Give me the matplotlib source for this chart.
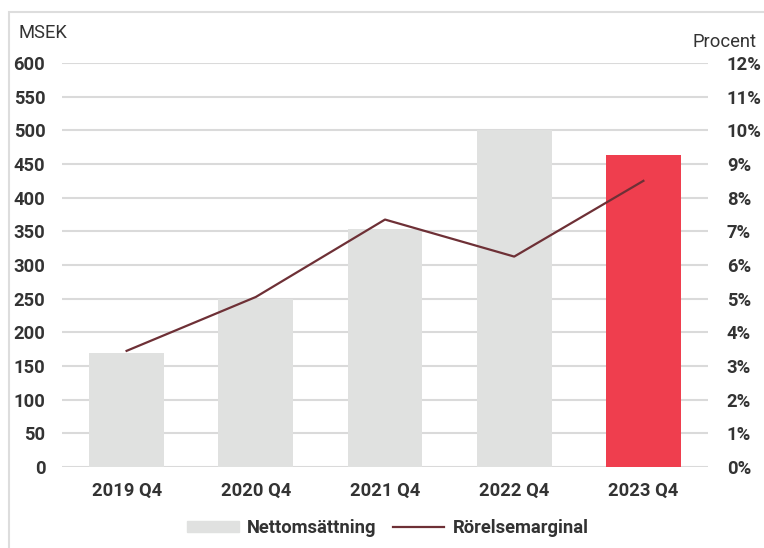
import numpy as np
import matplotlib.pyplot as plt
from matplotlib.patches import Rectangle

# =============================
# DATA
# =============================
quarters = ["2019 Q4", "2020 Q4", "2021 Q4", "2022 Q4", "2023 Q4"]
nettoomsattning = [170, 250, 353, 500, 463]          # MSEK
rorelsemarginal = [3.45, 5.05, 7.35, 6.25, 8.5]     # %

left_ticks = list(range(0, 601, 50))
right_ticks = list(range(0, 13, 1))

# =============================
# STYLE
# =============================
plt.rcParams['font.family'] = ['Roboto', 'DejaVu Sans']
text_col = "#333333"
grey_bar = "#E0E1E0"
red_bar = "#EF3E4E"
line_col = "#6E3036"
grid_col = "#DADADA"
fs = 13.2

fig = plt.figure(figsize=(7.64, 5.48), dpi=100)
ax = fig.add_axes([62/764, 1 - 467/548, 646/764, 404/548])
ax2 = ax.twinx()

x = np.arange(len(quarters))
colors = [grey_bar] * (len(quarters) - 1) + [red_bar]
ax.bar(x, nettoomsattning, width=0.58, color=colors, zorder=2)

ax.set_xlim(-0.5, len(quarters) - 0.5)
ax.set_ylim(0, 600)
ax.set_yticks(left_ticks)
ax.set_yticklabels([str(t) for t in left_ticks])
for t in left_ticks:
    ax.axhline(t, color=grid_col, lw=1.5, zorder=1)

ax2.plot(x, rorelsemarginal, color=line_col, lw=1.6, zorder=3)
ax2.set_ylim(0, 12)
ax2.set_yticks(right_ticks)
ax2.set_yticklabels([f"{t}%" for t in right_ticks])

ax.set_xticks(x)
ax.set_xticklabels(quarters)

for a in (ax, ax2):
    for s in a.spines.values():
        s.set_visible(False)
    a.tick_params(length=0, labelsize=fs, colors=text_col)
    for lab in a.get_yticklabels() + a.get_xticklabels():
        lab.set_fontweight("bold")
ax.tick_params(axis='y', pad=12)
ax2.tick_params(axis='y', pad=13.5)
ax.tick_params(axis='x', pad=11)

fig.text(18/764, 1 - 33/548, "MSEK", fontsize=fs, color=text_col, va="center")
fig.text(725/764, 1 - 42/548, "Procent", fontsize=fs, color=text_col,
         va="center", ha="center")

# legend
handles = [Rectangle((0, 0), 1, 1, color=grey_bar),
           plt.Line2D([0], [0], color=line_col, lw=1.6)]
fig.legend(handles, ["Nettomsättning", "Rörelsemarginal"],
           loc="center", bbox_to_anchor=(388/764, 1 - 528/548), ncol=2,
           frameon=False, handlelength=2.8, handleheight=0.6,
           columnspacing=0.9, handletextpad=0.45,
           prop={"size": fs, "weight": "bold"}, labelcolor=text_col)

# outer frame
fig.patches.append(Rectangle((9/764, -0.05), 1, 1.05 - 12/548, transform=fig.transFigure,
                             fill=False, ec="#DDDDDD", lw=1.5))

fig.savefig("out.png", dpi=100)
